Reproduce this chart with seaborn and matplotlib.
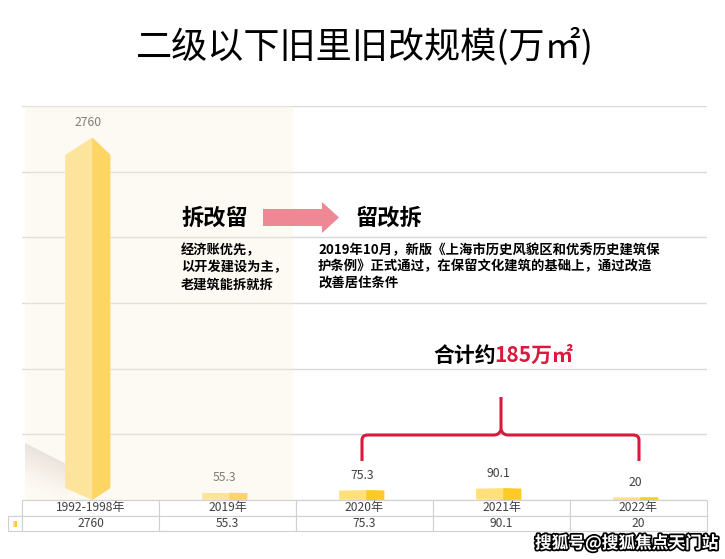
import matplotlib
matplotlib.use('Agg')
import matplotlib.pyplot as plt
import matplotlib.transforms as mtransforms
import matplotlib.patheffects as pe
from matplotlib.patches import Polygon, Rectangle
from matplotlib.path import Path
from matplotlib.patches import PathPatch
import seaborn as sns
import pandas as pd
import numpy as np

# ---------------- data ----------------
categories = ['1992-1998年', '2019年', '2020年', '2021年', '2022年']
values = [2760, 55.3, 75.3, 90.1, 20]
value_labels = ['2760', '55.3', '75.3', '90.1', '20']
y_ticks = [0, 500, 1000, 1500, 2000, 2500, 3000]

title_text = '二级以下旧里旧改规模(万㎡)'
left_head = '拆改留'
left_lines = ['经济账优先，', '以开发建设为主，', '老建筑能拆就拆']
right_head = '留改拆'
right_lines = ['2019年10月，新版《上海市历史风貌区和优秀历史建筑保',
               '护条例》正式通过，在保留文化建筑的基础上，通过改造',
               '改善居住条件']
total_black = '合计约'
total_red = '185万㎡'
watermark = '搜狐号@搜狐焦点天门站'

LIGHT = '#FFE07A'
DARK = '#FFC926'
GRID = '#D9D9D9'
RED = '#D81B3C'
PINK = '#EE8894'

# ---------------- figure ----------------
sns.set_theme(style='white')
plt.rcParams['font.family'] = ['Noto Sans CJK SC', 'DejaVu Sans']

W, H = 725, 559
fig = plt.figure(figsize=(W / 100, H / 100), dpi=100)
fig.patch.set_facecolor('white')
px = mtransforms.Affine2D().scale(1 / W, -1 / H).translate(0, 1) + fig.transFigure

ax = fig.add_axes([22 / W, (H - 500) / H, 685 / W, 394 / H])
ax.set_facecolor('white')
df = pd.DataFrame({'cat': categories, 'val': values})
sns.barplot(data=df, x='cat', y='val', color=LIGHT, width=0.33, saturation=1,
            ax=ax, zorder=2, linewidth=0)
ax.set_xlim(-0.5, 4.5)
ax.set_ylim(0, 3000)
ax.set_yticks(y_ticks)
ax.set_yticklabels([])
ax.set_xticks([])
ax.tick_params(left=False, bottom=False)
ax.yaxis.grid(True, color=GRID, lw=1)
ax.set_axisbelow(True)
for s in ax.spines.values():
    s.set_visible(False)
ax.set_xlabel('')
ax.set_ylabel('')

# prism shaped bars: clip the seaborn bars and add the darker right face
bars = list(ax.patches)
for p, v in zip(bars, values):
    x0 = p.get_x() - 0.02
    p.set_x(x0)
    w = p.get_width()
    x1 = x0 + w
    xs = x0 + 0.6 * w
    d = 0.048 * v
    db = 0.033 * v
    outline = Polygon([(x0, db), (xs, 0), (x1, db), (x1, v - d), (xs, v), (x0, v - d)],
                      closed=True, transform=ax.transData, facecolor='none', edgecolor='none')
    ax.add_patch(outline)
    p.set_clip_path(outline)
    ax.fill([xs, x1, x1, xs], [0, db, v - d, v], color=DARK, lw=0, zorder=2.1)

for i, (v, lab) in enumerate(zip(values, value_labels)):
    ax.annotate(lab, (i - 0.02, v), xytext=(0, 6), textcoords='offset points',
                ha='center', va='bottom', fontsize=8.8, color='#404040', zorder=3)

# soft shadow behind first bar (band fading downward)
top_l, top_r = (25, 443), (68, 465)
bot_l, bot_r = (25, 484), (68, 499)
n = 14
for k in range(n):
    t0, t1 = k / n, (k + 1) / n
    def lerp(a, b, t):
        return (a[0] + (b[0] - a[0]) * t, a[1] + (b[1] - a[1]) * t)
    pts = [lerp(top_l, bot_l, t0), lerp(top_r, bot_r, t0),
           lerp(top_r, bot_r, t1), lerp(top_l, bot_l, t1)]
    sh = Polygon(pts, closed=True, transform=px, facecolor='#C9C4BD', edgecolor='none',
                 alpha=0.55 * (1 - k / n) ** 1.3, zorder=1.5)
    sh.set_clip_on(False)
    ax.add_patch(sh)

# beige overlay over first two categories
ax.add_patch(Rectangle((-0.478, 0), 1.956, 3000, facecolor='#FCEEDD', edgecolor='none',
                       alpha=0.35, zorder=5))

# ---------------- table ----------------
cell_text = [[''] + value_labels]
col_labels = [''] + categories
tbl = ax.table(cellText=cell_text, colLabels=col_labels, cellLoc='center',
               colWidths=[14 / 685] + [137 / 685] * 5,
               bbox=[-14 / 685, -31 / 394, 699 / 685, 31 / 394])
tbl.auto_set_font_size(False)
tbl.set_fontsize(8.7)
for (r, c), cell in tbl.get_celld().items():
    cell.set_edgecolor('#D0D0D0')
    cell.set_linewidth(0.8)
    cell.set_facecolor('white')
    cell.get_text().set_color('#404040')
    if r == 0 and c == 0:
        cell.visible_edges = 'B'
# legend marker
fig.add_artist(Rectangle((13, 521), 2.5, 6, transform=px, facecolor=LIGHT, edgecolor='none'))
fig.add_artist(Rectangle((15.5, 521), 2, 6, transform=px, facecolor=DARK, edgecolor='none'))

# ---------------- texts ----------------
fig.text(365, 47, title_text, transform=px, ha='center', va='center', fontsize=26, color='black')

fig.text(181, 218, left_head, transform=px, ha='left', va='center', fontsize=16,
         fontweight='bold', color='black')
for k, line in enumerate(left_lines):
    fig.text(181, 250 + 17.5 * k, line, transform=px, ha='left', va='center', fontsize=9.5,
             fontweight='bold', color='black')

fig.text(356, 218, right_head, transform=px, ha='left', va='center', fontsize=16,
         fontweight='bold', color='black')
for k, line in enumerate(right_lines):
    fig.text(318, 250 + 16.5 * k, line, transform=px, ha='left', va='center', fontsize=9.6,
             fontweight='bold', color='black')

fig.text(496, 355, total_black, transform=px, ha='right', va='center', fontsize=15,
         fontweight='bold', color='black')
fig.text(494, 355, total_red, transform=px, ha='left', va='center', fontsize=15,
         fontweight='bold', color=RED)

# arrow
fig.add_artist(Polygon([(263, 209), (322, 209), (322, 202), (339, 217.5), (322, 233),
                        (322, 226), (263, 226)], closed=True, transform=px,
                       facecolor=PINK, edgecolor='none'))

# brace
verts = [(362, 461), (362, 440), (362, 435), (368, 435),
         (494, 435), (499, 435), (501, 430), (501, 397),
         (501, 430), (503, 435), (508, 435),
         (633, 435), (639, 435), (639, 440), (639, 461)]
codes = [Path.MOVETO, Path.LINETO, Path.CURVE3, Path.CURVE3,
         Path.LINETO, Path.CURVE3, Path.CURVE3, Path.LINETO,
         Path.MOVETO, Path.CURVE3, Path.CURVE3,
         Path.LINETO, Path.CURVE3, Path.CURVE3, Path.LINETO]
fig.add_artist(PathPatch(Path(verts, codes), transform=px, facecolor='none',
                         edgecolor=RED, lw=2.2, capstyle='butt'))

# watermark
fig.text(718, 543, watermark, transform=px, ha='right', va='center', fontsize=12,
         fontweight='bold', color='white',
         path_effects=[pe.withStroke(linewidth=2.5, foreground='black')])

fig.savefig('out.png', dpi=100, facecolor='white')
